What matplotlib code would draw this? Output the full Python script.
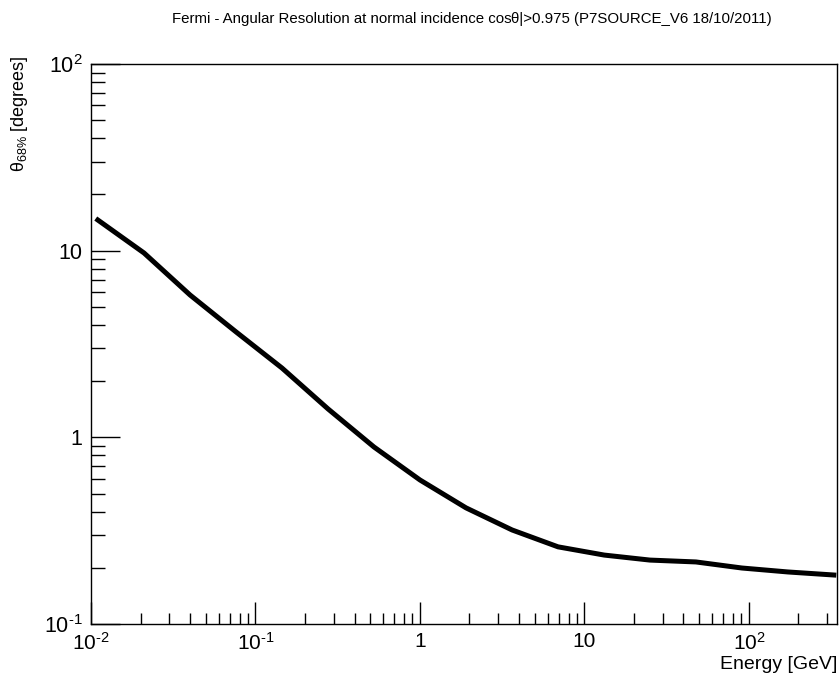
import numpy as np
import matplotlib
matplotlib.use("Agg")
import matplotlib.pyplot as plt
import matplotlib.ticker as mticker

plt.rcParams.update({
    "font.family": ["Liberation Sans", "DejaVu Sans"],
    "mathtext.fontset": "custom",
    "mathtext.rm": "Liberation Sans",
    "mathtext.it": "Liberation Sans:italic",
    "mathtext.bf": "Liberation Sans:bold",
    "axes.unicode_minus": False,
    "axes.linewidth": 1.0,
})

# Angular resolution (68% containment) vs energy
energy_gev = [0.0110, 0.0210, 0.0400, 0.0762, 0.145, 0.276, 0.525, 1.00,
              1.905, 3.63, 6.91, 13.2, 25.0, 47.6, 90.6, 172.6, 328.0]
theta68_deg = [14.6, 9.72, 5.79, 3.67, 2.35, 1.42, 0.888, 0.591,
               0.419, 0.319, 0.259, 0.234, 0.220, 0.215, 0.1995, 0.190, 0.183]

x_range = (0.01, 343.0)
y_range = (0.1, 100.0)

title_left = "Fermi - Angular Resolution at normal incidence cos"
title_right = "\u03b8|>0.975 (P7SOURCE_V6 18/10/2011)"


def root_log_label(v, _):
    e = int(round(np.log10(v)))
    if e == 0:
        return "1"
    if e == 1:
        return "10"
    if e < 0:
        return r"$10^{\text{-}%d}$" % (-e)
    return r"$10^{%d}$" % e


fig = plt.figure(figsize=(8.4, 6.75), dpi=100)
ax = fig.add_axes([91 / 840, 51 / 675, 746 / 840, 560 / 675])

ax.plot(energy_gev, theta68_deg, color="black", linewidth=3.6,
        solid_joinstyle="miter")

ax.set_xscale("log")
ax.set_yscale("log")
ax.set_xlim(*x_range)
ax.set_ylim(*y_range)

ax.xaxis.set_major_locator(mticker.LogLocator(base=10, numticks=10))
ax.yaxis.set_major_locator(mticker.LogLocator(base=10, numticks=10))
ax.xaxis.set_minor_locator(mticker.LogLocator(base=10, subs=np.arange(2, 10), numticks=20))
ax.yaxis.set_minor_locator(mticker.LogLocator(base=10, subs=np.arange(2, 10), numticks=20))
ax.xaxis.set_major_formatter(mticker.FuncFormatter(root_log_label))
ax.yaxis.set_major_formatter(mticker.FuncFormatter(root_log_label))
ax.xaxis.set_minor_formatter(mticker.NullFormatter())
ax.yaxis.set_minor_formatter(mticker.NullFormatter())

ax.tick_params(axis="both", which="both", direction="in", top=False, right=False,
               width=1.0, labelsize=15.5)
ax.tick_params(axis="x", which="major", length=16, pad=6, labelsize=15)
ax.tick_params(axis="x", which="minor", length=8)
ax.tick_params(axis="y", which="major", length=21, pad=6)
ax.tick_params(axis="y", which="minor", length=10)

ax.set_xlabel("Energy [GeV]", fontsize=14, loc="right", labelpad=1)
ax.set_ylabel("\u03b8$_{68\\%}$ [degrees]", fontsize=13)
ax.yaxis.set_label_coords(-61 / 746, 1 + 9 / 560)
ax.yaxis.label.set_horizontalalignment("right")

fig.text(172 / 840, 1 - 19 / 675, title_left, fontsize=10.8, ha="left", va="center")
fig.text(772 / 840, 1 - 19 / 675, title_right, fontsize=10.8, ha="right", va="center")

fig.savefig("out.png", dpi=100)
